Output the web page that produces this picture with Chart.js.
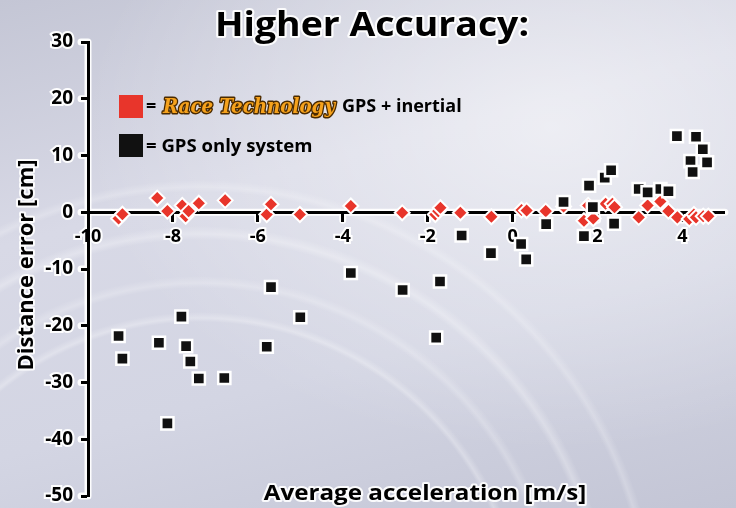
<!DOCTYPE html>
<html>
<head>
<meta charset="utf-8">
<title>Higher Accuracy</title>
<script src="https://cdn.jsdelivr.net/npm/chart.js@4.4.1/dist/chart.umd.min.js"></script>
<style>
  html, body { margin: 0; padding: 0; }
  body {
    width: 736px; height: 508px; overflow: hidden;
    background:
      radial-gradient(circle at 200px 640px, transparent 318px, rgba(255,255,255,0.28) 322px, transparent 328px,
                      transparent 352px, rgba(255,255,255,0.22) 357px, transparent 364px,
                      transparent 400px, rgba(255,255,255,0.28) 406px, transparent 414px,
                      transparent 448px, rgba(255,255,255,0.22) 453px, transparent 460px),
      radial-gradient(ellipse at 75% 25%, rgba(255,255,255,0.55), rgba(255,255,255,0) 60%),
      linear-gradient(165deg, #c4c6d5 0%, #d8d9e6 35%, #d3d5e3 65%, #c3c5d5 100%);
  }
  #wrap { position: relative; width: 736px; height: 508px; }
</style>
</head>
<body>
<div id="wrap"><canvas id="chart" width="736" height="508"></canvas></div>
<script>
// tick labels
const xTickValues = [-10, -8, -6, -4, -2, 0, 2, 4];
const yTickValues = [-50, -40, -30, -20, -10, 0, 10, 20, 30];

// Race Technology GPS + inertial (red diamonds)
const raceTechX = [-9.28, -9.19, -8.37, -8.13, -7.78, -7.70, -7.63, -7.39, -6.77, -5.79,
                   -5.69, -5.01, -3.81, -2.60, -1.82, -1.75, -1.70, -1.23, -0.50, 0.21,
                   0.33, 0.78, 1.20, 1.68, 1.78, 1.90, 2.19, 2.35, 2.40, 2.97,
                   3.18, 3.48, 3.67, 3.88, 4.16, 4.27, 4.32, 4.49, 4.61];
const raceTechY = [-1.1, -0.35, 2.5, 0.2, 1.2, -0.7, 0.2, 1.6, 2.1, -0.4,
                   1.4, -0.4, 1.1, -0.1, -0.4, 0.2, 0.8, -0.1, -0.8, 0.4,
                   0.3, 0.2, 1.0, -1.5, 1.2, -1.1, 1.5, 1.5, 0.9, -0.9,
                   1.2, 1.9, 0.2, -0.9, -1.2, -0.4, -0.9, -0.7, -0.7];

// GPS only system (black squares)
const gpsOnlyX = [-9.28, -9.19, -8.33, -8.13, -7.80, -7.69, -7.59, -7.39, -6.79, -5.79,
                  -5.69, -5.00, -3.81, -2.59, -1.80, -1.71, -1.20, -0.51, 0.20, 0.32,
                  0.79, 1.20, 1.68, 1.80, 1.89, 2.17, 2.32, 2.39, 2.97, 3.18,
                  3.48, 3.67, 3.87, 4.19, 4.24, 4.32, 4.48, 4.58];
const gpsOnlyY = [-21.8, -25.8, -23.0, -37.2, -18.4, -23.6, -26.3, -29.3, -29.2, -23.7,
                  -13.2, -18.5, -10.7, -13.7, -22.1, -12.2, -4.1, -7.2, -5.6, -8.3,
                  -2.1, 1.8, -4.2, 4.7, 0.9, 6.1, 7.4, -2.0, 4.1, 3.5,
                  4.1, 3.7, 13.4, 9.0, 7.1, 13.3, 11.1, 8.8];

const RED = '#e8352b';
const BLACK = '#111111';
const FONT = '"Open Sans", "Noto Sans", sans-serif';

const toPoints = (xs, ys) => xs.map((x, i) => ({ x: x, y: ys[i] }));

// text with a white rim, stretched a little wider (x scale sx)
function haloText(ctx, text, x, y, width, sx) {
  ctx.save();
  ctx.translate(x, y);
  ctx.scale(sx || 1, 1);
  ctx.lineJoin = 'round';
  if (width > 0) {
    ctx.strokeStyle = 'rgba(255,255,255,0.9)';
    ctx.lineWidth = width;
    ctx.strokeText(text, 0, 0);
  }
  ctx.fillStyle = '#000';
  ctx.fillText(text, 0, 0);
  ctx.restore();
}

// white outline under the axis lines and tick marks, plus titles and legend
const axisHalo = {
  id: 'axisHalo',
  beforeDraw(chart) {
    const ctx = chart.ctx;
    const xs = chart.scales.x, ys = chart.scales.y;
    const area = chart.chartArea;
    const y0 = ys.getPixelForValue(0);
    ctx.save();
    ctx.strokeStyle = 'rgba(255,255,255,0.95)';
    ctx.lineWidth = 7;
    ctx.lineCap = 'round';
    ctx.beginPath();
    ctx.moveTo(area.left, area.top);
    ctx.lineTo(area.left, area.bottom);
    ctx.moveTo(area.left, y0);
    ctx.lineTo(area.right, y0);
    yTickValues.forEach(v => {
      const py = ys.getPixelForValue(v);
      ctx.moveTo(area.left - 7, py);
      ctx.lineTo(area.left, py);
    });
    xTickValues.forEach(v => {
      const px = xs.getPixelForValue(v);
      ctx.moveTo(px, y0);
      ctx.lineTo(px, y0 + 8);
    });
    ctx.stroke();
    ctx.restore();
  },
  afterDraw(chart) {
    const ctx = chart.ctx;
    ctx.save();
    ctx.textBaseline = 'alphabetic';

    // title
    ctx.textAlign = 'center';
    ctx.font = 'bold 34px ' + FONT;
    haloText(ctx, 'Higher Accuracy:', 372, 36, 4, 1.1);

    // axis titles
    ctx.font = 'bold 22px ' + FONT;
    haloText(ctx, 'Average acceleration [m/s]', 425, 500, 4, 1.1);
    ctx.save();
    ctx.translate(33, 265);
    ctx.rotate(-Math.PI / 2);
    haloText(ctx, 'Distance error [cm]', 0, 0, 4, 1);
    ctx.restore();

    // legend
    const ds = chart.data.datasets;
    ctx.textAlign = 'left';
    ctx.fillStyle = ds[1].backgroundColor;
    ctx.fillRect(119, 95, 24, 23);
    ctx.fillStyle = ds[0].backgroundColor;
    ctx.fillRect(119, 134, 24, 23);

    ctx.font = 'bold 18px ' + FONT;
    haloText(ctx, '=', 146, 112, 0, 1);
    haloText(ctx, '= GPS only system', 146, 152, 0, 1.03);

    ctx.font = 'italic bold 21px "DejaVu Serif", serif';
    const w = ctx.measureText('Race Technology').width;
    ctx.save();
    ctx.translate(163, 113);
    ctx.scale(172 / w, 1);
    ctx.lineJoin = 'round';
    ctx.strokeStyle = '#4a2a00';
    ctx.lineWidth = 3;
    ctx.strokeText('Race Technology', 0, 0);
    ctx.fillStyle = '#f6a21c';
    ctx.fillText('Race Technology', 0, 0);
    ctx.restore();

    ctx.font = 'bold 18px ' + FONT;
    haloText(ctx, 'GPS + inertial', 342, 112, 0, 1);
    ctx.restore();
  }
};

new Chart(document.getElementById('chart'), {
  type: 'scatter',
  data: {
    datasets: [
      {
        label: 'GPS only system',
        data: toPoints(gpsOnlyX, gpsOnlyY),
        pointStyle: 'rect',
        pointRadius: 8.6,
        pointHoverRadius: 8.6,
        backgroundColor: BLACK,
        borderColor: '#ffffff',
        borderWidth: 2.5,
        clip: false
      },
      {
        label: 'Race Technology GPS + inertial',
        data: toPoints(raceTechX, raceTechY),
        pointStyle: 'rectRot',
        pointRadius: 7.5,
        pointHoverRadius: 7.5,
        backgroundColor: RED,
        borderColor: '#ffffff',
        borderWidth: 2,
        clip: false
      }
    ]
  },
  options: {
    responsive: false,
    animation: false,
    events: [],
    layout: { padding: { top: 42, bottom: 12, right: 7, left: 0 } },
    plugins: {
      legend: { display: false },
      title: { display: false },
      tooltip: { enabled: false }
    },
    scales: {
      x: {
        type: 'linear',
        position: { y: 0 },
        min: -10,
        max: 5,
        afterBuildTicks: scale => { scale.ticks = xTickValues.map(v => ({ value: v })); },
        grid: { drawOnChartArea: false, drawTicks: true, tickLength: 8, tickWidth: 3, tickColor: '#000' },
        border: { display: true, color: '#000', width: 3 },
        ticks: {
          maxRotation: 0,
          autoSkip: false,
          padding: 6,
          color: '#000',
          font: { family: FONT, size: 18, weight: 'bold' },
          textStrokeColor: 'rgba(255,255,255,0.95)',
          textStrokeWidth: 4
        }
      },
      y: {
        type: 'linear',
        position: 'left',
        min: -50,
        max: 30,
        afterBuildTicks: scale => { scale.ticks = yTickValues.map(v => ({ value: v })); },
        afterFit: scale => { scale.width = 88; scale.paddingTop = 0; scale.paddingBottom = 0; },
        grid: { drawOnChartArea: false, drawTicks: true, tickLength: 7, tickWidth: 3, tickColor: '#000' },
        border: { display: true, color: '#000', width: 3 },
        ticks: {
          padding: 8,
          color: '#000',
          font: { family: FONT, size: 19, weight: 'bold', lineHeight: 1 },
          textStrokeColor: 'rgba(255,255,255,0.95)',
          textStrokeWidth: 4
        }
      }
    }
  },
  plugins: [axisHalo]
});
</script>
</body>
</html>
